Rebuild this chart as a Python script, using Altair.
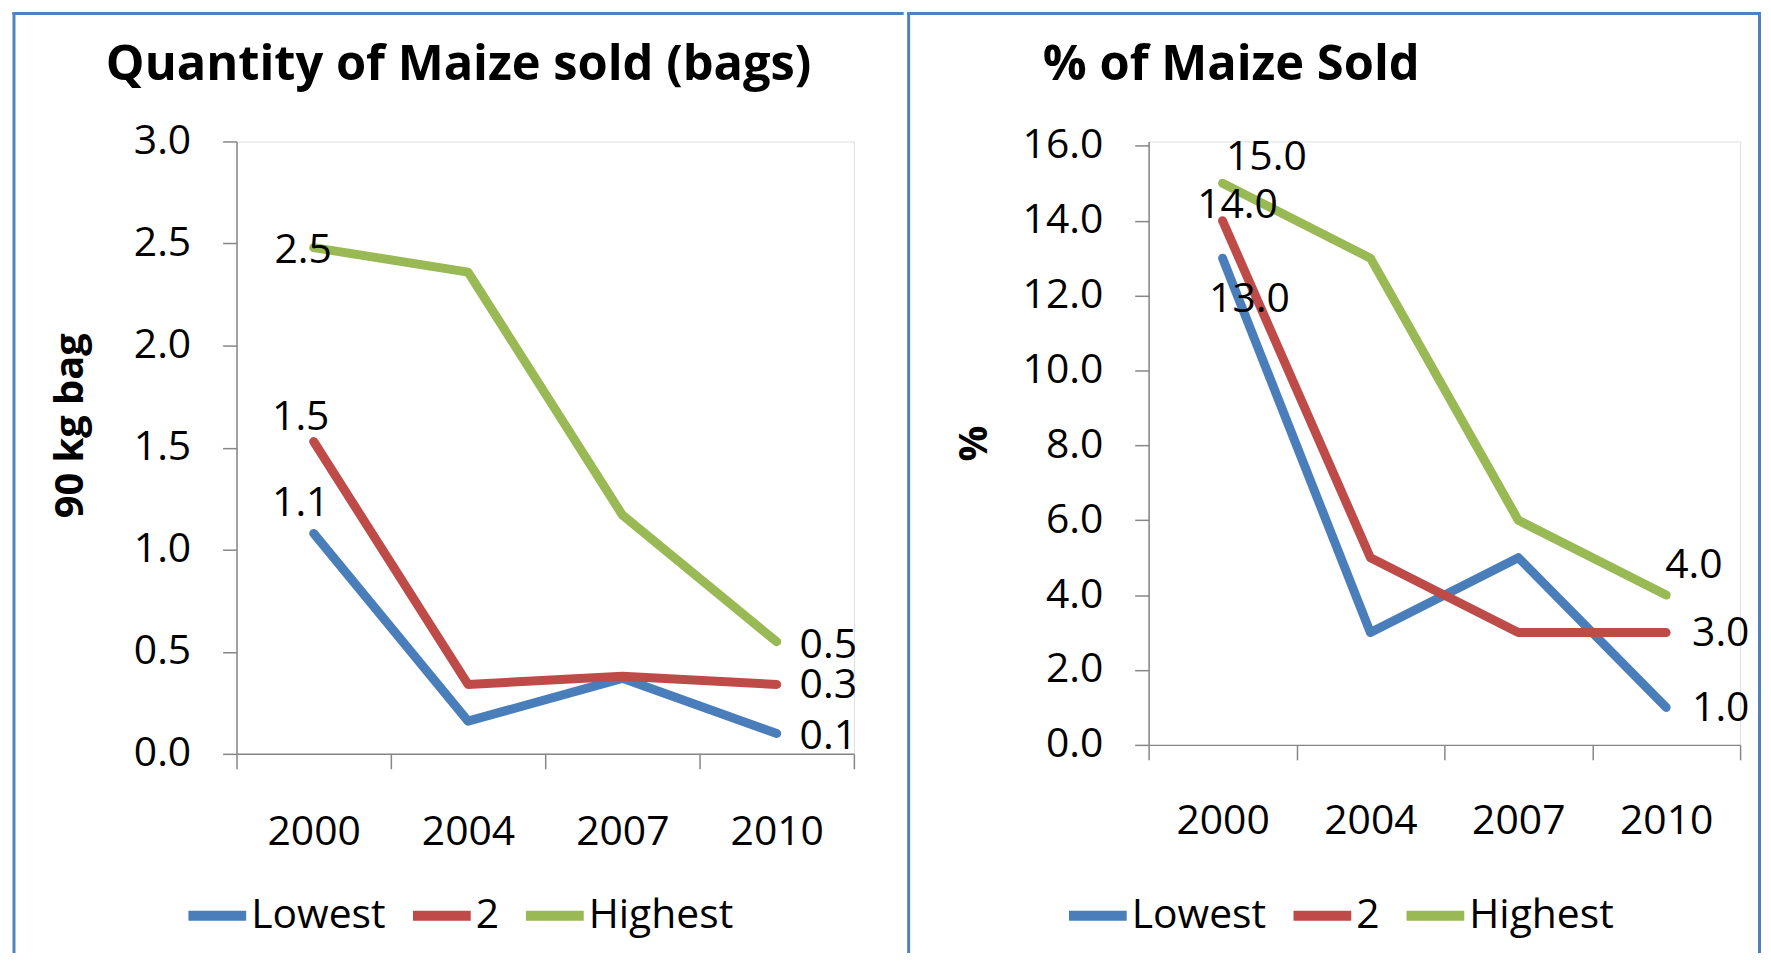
import altair as alt
import pandas as pd

# ---------------- data ----------------
years = ["2000", "2004", "2007", "2010"]
series_names = ["Lowest", "2", "Highest"]
series_colors = ["#4A7EBB", "#BE4B48", "#98B954"]

qty_lowest = [1.08, 0.16, 0.37, 0.10]
qty_two = [1.53, 0.34, 0.38, 0.34]
qty_highest = [2.48, 2.36, 1.17, 0.549]

pct_lowest = [13.0, 3.0, 5.0, 1.0]
pct_two = [14.0, 5.0, 3.0, 3.0]
pct_highest = [15.0, 13.0, 6.0, 4.0]

qty_ticks = [0.0, 0.5, 1.0, 1.5, 2.0, 2.5, 3.0]
pct_ticks = [0, 2, 4, 6, 8, 10, 12, 14, 16]

title_qty = "Quantity of Maize sold (bags)"
title_pct = "% of Maize Sold"
ytitle_qty = "90 kg bag"
ytitle_pct = "%"

FONT = "Open Sans"
AXIS_GRAY = "#868686"
FRAME = "#4F81BD"
LABEL_SIZE = 41


def long_df(value_lists):
    rows = []
    for s, vals in zip(series_names, value_lists):
        for y, v in zip(years, vals):
            rows.append({"year": y, "series": s, "value": v})
    return pd.DataFrame(rows)


qty_df = long_df([qty_lowest, qty_two, qty_highest])
pct_df = long_df([pct_lowest, pct_two, pct_highest])
one = pd.DataFrame({"k": [0]})


def panel(df, width, height, ymax, yticks, ytitle, ytitle_x, ytitle_y, xlabel_pad,
          title, title_x, title_y, legend_x, legend_y, labels, frame):
    x = alt.X(
        "year:N", sort=years, bandPosition=0.5,
        scale=alt.Scale(type="band", paddingInner=0, paddingOuter=0),
        axis=alt.Axis(title=None, tickBand="extent", labelAngle=0,
                      labelBaseline="middle", labelPadding=xlabel_pad, tickSize=15,
                      tickColor=AXIS_GRAY, tickWidth=1.5, domainColor=AXIS_GRAY,
                      domainWidth=1.5, labelFont=FONT, labelFontSize=LABEL_SIZE,
                      labelColor="black", grid=False),
    )
    y = alt.Y(
        "value:Q",
        scale=alt.Scale(domain=[0, ymax], nice=False, zero=True),
        axis=alt.Axis(values=yticks, format=".1f", grid=False,
                      tickSize=14, tickColor=AXIS_GRAY, tickWidth=1.5,
                      domainColor=AXIS_GRAY, domainWidth=1.5,
                      labelFont=FONT, labelFontSize=LABEL_SIZE, labelColor="black",
                      labelPadding=32, labelFlush=False, labelOverlap=False,
                      title=ytitle, titleX=ytitle_x, titleY=ytitle_y,
                      titleAngle=270, titleAlign="center", titleBaseline="alphabetic",
                      titleFont=FONT, titleFontSize=40, titleFontWeight="bold",
                      titleColor="black"),
    )
    base = alt.Chart(df).encode(x=x, y=y)
    lines = base.mark_line(strokeWidth=9, strokeCap="round", strokeJoin="round").encode(
        color=alt.Color(
            "series:N", sort=series_names,
            scale=alt.Scale(domain=series_names, range=series_colors),
            legend=alt.Legend(title=None, orient="none", legendX=legend_x, legendY=legend_y,
                              direction="horizontal", symbolType="stroke", symbolSize=3364,
                              symbolStrokeWidth=10, labelFont=FONT, labelFontSize=LABEL_SIZE,
                              labelColor="black", labelOffset=0, columnPadding=6.5, padding=0),
        )
    )
    layers = [lines]
    for s, yr, dx, dy, align in labels:
        layers.append(
            base.transform_filter((alt.datum.series == s) & (alt.datum.year == yr))
            .mark_text(dx=dx, dy=dy, align=align, baseline="middle", font=FONT,
                       fontSize=LABEL_SIZE, color="black")
            .encode(text=alt.Text("value:Q", format=".1f"))
        )
    layers.append(
        alt.Chart(one).mark_text(font=FONT, fontSize=49, fontWeight="bold", color="black",
                                 align="center", baseline="alphabetic")
        .encode(x=alt.value(title_x), y=alt.value(title_y), text=alt.value(title))
    )
    fx_left, fx_right, fy_top, fy_bottom, verticals = frame
    rule = alt.Chart(one).mark_rule(color=FRAME, strokeWidth=3, strokeCap="square")
    layers.append(rule.encode(x=alt.value(fx_left), x2=alt.value(fx_right), y=alt.value(fy_top)))
    for vx in verticals:
        layers.append(rule.encode(x=alt.value(vx), y=alt.value(fy_top), y2=alt.value(fy_bottom)))
    return alt.layer(*layers).properties(width=width, height=height)


left = panel(
    qty_df, 620, 615, 3.0, qty_ticks, ytitle_qty, -155, 285, 64.3,
    title_qty, 223, -62, -53.3, 743.7,
    [("Lowest", "2000", -13, -29.4, "center"),
     ("2", "2000", -13, -23.4, "center"),
     ("Highest", "2000", -10.5, 3.6, "center"),
     ("Lowest", "2010", 23, 4, "left"),
     ("2", "2010", 23, 2, "left"),
     ("Highest", "2010", 23, 4.5, "left")],
    (-223.5, 668.5, -128.5, 813.5, [-223.5]),
)

right = panel(
    pct_df, 594, 606, 606 / 37.6, pct_ticks, ytitle_pct, -162.5, 303, 62,
    title_pct, 83, -62, -85, 743.7,
    [("Lowest", "2000", 27, 42, "center"),
     ("2", "2000", 15, -15, "center"),
     ("Highest", "2000", 44, -25, "center"),
     ("Lowest", "2010", 26, 2, "left"),
     ("2", "2010", 26, 2, "left"),
     ("Highest", "2010", -1, -29, "left")],
    (-241, 613.5, -128.5, 813.5, [-241, 613.5]),
)

chart = (
    alt.hconcat(left, right, spacing=0)
    .resolve_scale(x="independent", y="independent", color="independent")
    .resolve_axis(x="independent", y="independent")
    .resolve_legend(color="independent")
    .properties(padding={"left": 2.5, "top": 0, "right": 0, "bottom": 0}, background="white")
    .configure_view(stroke=None)
    .configure(font=FONT)
)

chart.save("out.html", embed_options={"renderer": "svg", "actions": False})
